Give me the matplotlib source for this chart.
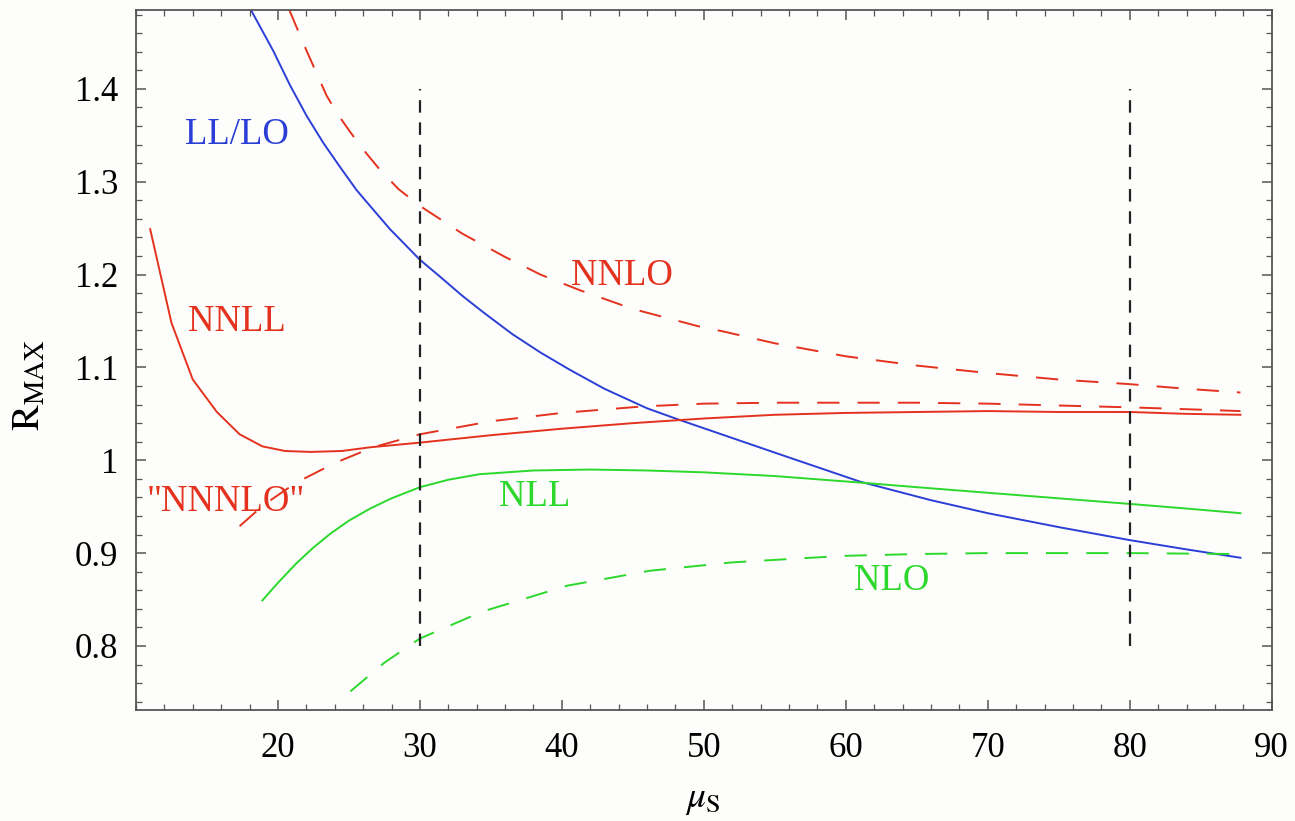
import matplotlib.pyplot as plt
from matplotlib.ticker import MultipleLocator

plt.rcParams['font.family'] = ['Liberation Serif', 'DejaVu Serif']
plt.rcParams['mathtext.fontset'] = 'stix'
plt.rcParams['lines.scale_dashes'] = False

# R_MAX versus the soft scale mu_S for the different orders
ll_lo_x = [18.1, 19.67, 20.85, 22.02, 23.19, 24.37, 25.54, 26.71, 27.89, 30,
           31.4, 33, 34.5, 36.5, 38.5, 40.5, 43, 46, 48, 52, 56, 61, 66, 70, 75,
           80, 84, 87.8]
ll_lo_y = [1.485, 1.441, 1.404, 1.371, 1.342, 1.316, 1.291, 1.270, 1.249, 1.216,
           1.198, 1.177, 1.159, 1.136, 1.116, 1.098, 1.077, 1.056, 1.045, 1.024,
           1.003, 0.977, 0.957, 0.943, 0.928, 0.914, 0.904, 0.895]

nnlo_x = [20.8, 22.02, 23.42, 24.2, 25.07, 26.1, 27.18, 28.5, 30, 33, 36, 38.5,
          41.3, 45, 49.7, 51.3, 55, 60, 65, 70, 75, 80, 84, 87.8]
nnlo_y = [1.485, 1.441, 1.393, 1.373, 1.354, 1.333, 1.313, 1.292, 1.274, 1.244,
          1.219, 1.200, 1.183, 1.163, 1.144, 1.139, 1.126, 1.112, 1.102, 1.094,
          1.087, 1.082, 1.077, 1.073]

n3lo_x = [17.3, 19, 21.3, 24, 26.7, 30, 35, 40, 45.7, 50, 55, 60, 65, 70, 75,
          80, 84, 87.8]
n3lo_y = [0.929, 0.952, 0.976, 0.997, 1.014, 1.028, 1.042, 1.051, 1.058, 1.061,
          1.062, 1.062, 1.062, 1.061, 1.059, 1.057, 1.055, 1.053]

nnll_x = [11.0, 12.5, 14.0, 15.7, 17.3, 18.9, 20.5, 22.3, 24.5, 26.5, 30, 35,
          40, 45, 50, 55, 60, 65, 70, 75, 80, 84, 87.8]
nnll_y = [1.249, 1.148, 1.087, 1.052, 1.028, 1.015, 1.010, 1.009, 1.010, 1.014,
          1.019, 1.027, 1.034, 1.040, 1.045, 1.049, 1.051, 1.052, 1.053, 1.052,
          1.052, 1.050, 1.049]

nll_x = [18.9, 20, 21.3, 22.5, 23.7, 25, 26.5, 28, 30, 32, 34.2, 38, 42, 46, 50,
         55, 61, 65, 70, 75, 80, 84, 87.8]
nll_y = [0.849, 0.868, 0.889, 0.906, 0.921, 0.935, 0.948, 0.959, 0.971, 0.979,
         0.985, 0.989, 0.990, 0.989, 0.987, 0.983, 0.976, 0.971, 0.965, 0.959,
         0.953, 0.948, 0.943]

nlo_x = [25.1, 27.5, 30, 34.4, 40.4, 46.2, 52, 59.8, 65, 70, 75, 80, 87.8]
nlo_y = [0.751, 0.782, 0.808, 0.837, 0.865, 0.881, 0.890, 0.897, 0.899, 0.900,
         0.900, 0.900, 0.899]

# scale window marks
window_x = [30, 80]
window_y = [0.8, 1.4]

RED = '#e4321e'
GREEN = '#2bd82b'
BLUE = '#2b3fd6'

fig = plt.figure(figsize=(12.95, 8.21), dpi=100)
fig.patch.set_facecolor('#fdfdfb')
ax = fig.add_axes([0.105, 0.1352, 0.877, 0.8526])
ax.set_facecolor('#fdfdfb')

lw = 1.4
dash = (16, 13)
ax.plot(ll_lo_x, ll_lo_y, color=BLUE, lw=lw)
ax.plot(nnll_x, nnll_y, color=RED, lw=lw)
ax.plot(nnlo_x, nnlo_y, color=RED, lw=lw, dashes=dash)
ax.plot(n3lo_x, n3lo_y, color=RED, lw=lw, dashes=dash)
ax.plot(nll_x, nll_y, color=GREEN, lw=lw)
ax.plot(nlo_x, nlo_y, color=GREEN, lw=lw, dashes=dash)
for xv in window_x:
    ax.plot([xv, xv], window_y, color='#222222', lw=1.6, dashes=(9, 7))

fs_lab = 26.5
ax.text(17.1, 1.351, 'LL/LO', color=BLUE, fontsize=fs_lab, ha='center', va='center')
ax.text(17.1, 1.149, 'NNLL', color=RED, fontsize=fs_lab, ha='center', va='center')
ax.text(16.3, 0.955, '"NNNLO"', color=RED, fontsize=fs_lab, ha='center', va='center')
ax.text(44.2, 1.199, 'NNLO', color=RED, fontsize=fs_lab, ha='center', va='center')
ax.text(38.1, 0.961, 'NLL', color=GREEN, fontsize=fs_lab, ha='center', va='center')
ax.text(63.2, 0.870, 'NLO', color=GREEN, fontsize=fs_lab, ha='center', va='center')

ax.set_xlim(10, 90)
ax.set_ylim(0.731, 1.485)
ax.xaxis.set_minor_locator(MultipleLocator(2))
ax.yaxis.set_minor_locator(MultipleLocator(0.02))
ax.set_xticks([20, 30, 40, 50, 60, 70, 80, 90])
ax.set_xticklabels(['20', '30', '40', '50', '60', '70', '80', '90'])
ax.set_yticks([0.8, 0.9, 1.0, 1.1, 1.2, 1.3, 1.4])
ax.set_yticklabels(['0.8', '0.9', '1', '1.1', '1.2', '1.3', '1.4'])

ax.tick_params(which='both', direction='in', top=True, right=True,
               color='#555555', labelsize=25)
ax.tick_params(which='major', length=7, width=1.1)
ax.tick_params(which='minor', length=4, width=0.9)
ax.tick_params(axis='x', pad=16)
ax.tick_params(axis='y', pad=13)
for sp in ax.spines.values():
    sp.set_color('#555555')
    sp.set_linewidth(1.3)

fig.text(30 / 1295, 1 - 385 / 821, r'$\mathrm{R}_{\mathrm{MAX}}$', rotation=90,
         fontsize=28, ha='center', va='center')
fig.text(703 / 1295, 1 - 800 / 821, r'$\mu_{\mathrm{S}}$', fontsize=27,
         ha='center', va='center')

fig.savefig('out.png', dpi=100, facecolor=fig.get_facecolor())
